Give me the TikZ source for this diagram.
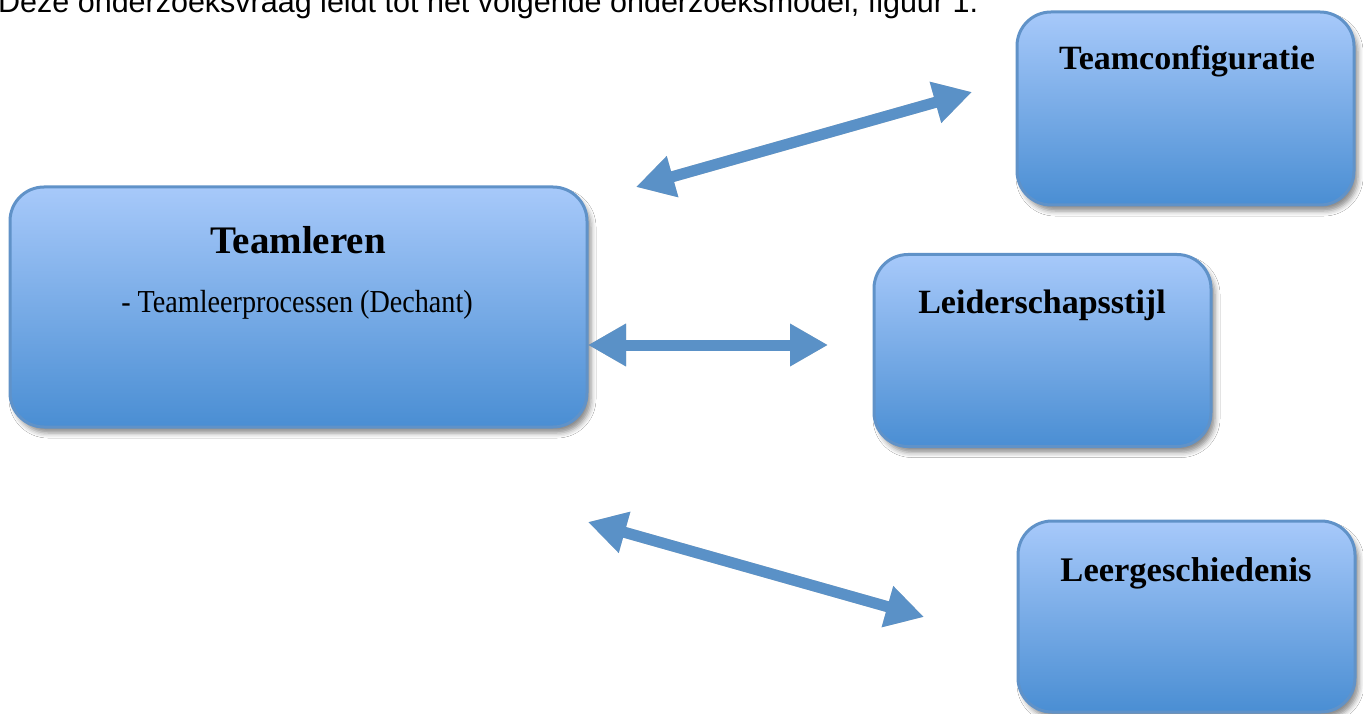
\documentclass[tikz,border=0pt]{standalone}
\usepackage{fontspec}
\setmainfont{Liberation Serif}
\newfontfamily\arialf{Liberation Sans}
\newfontfamily\subf[FakeStretch=0.88]{Liberation Serif}
\usetikzlibrary{arrows.meta,shadows.blur}
\definecolor{boxtop}{RGB}{167,201,250}
\definecolor{boxmid}{RGB}{140,180,234}
\definecolor{boxbot}{RGB}{74,142,211}
\definecolor{boxline}{RGB}{96,146,200}
\definecolor{arrowc}{RGB}{90,145,199}
\tikzset{
  box/.style={rounded corners=34pt, draw=boxline, line width=3pt,
    top color=boxtop, middle color=boxmid, bottom color=boxbot,
    inner sep=0pt,
    blur shadow={shadow xshift=4pt, shadow yshift=-6pt, shadow blur radius=5pt, shadow opacity=45}},
  ttl/.style={inner sep=0pt, anchor=base, font=\fontsize{34}{40}\selectfont\bfseries},
  arr/.style={draw=arrowc, line width=11pt,
    {Triangle[length=38pt,width=40pt]}-{Triangle[length=38pt,width=40pt]}},
  arrsh/.style={draw=black, opacity=0.22, line width=11pt, xshift=4pt, yshift=-6pt,
    {Triangle[length=38pt,width=40pt]}-{Triangle[length=38pt,width=40pt]}}
}
\begin{document}
\begin{tikzpicture}[x=1pt,y=-1pt]
\useasboundingbox (0,0) rectangle (1363,714);
\clip (0,0) rectangle (1363,714);
\fill[white] (0,0) rectangle (1363,714);
% intro text (cut at top)
\node[inner sep=0pt, anchor=base west, font=\arialf\fontsize{30.5}{36}\selectfont] (intro) at (-2,13)
  {Deze onderzoeksvraag leidt tot het volgende onderzoeksmodel, figuur 1.};
% boxes
\node[box, minimum width=577pt, minimum height=240pt] (teamleren) at (298.5,307) {};
\node[box, minimum width=337pt, minimum height=193pt] (config) at (1185.5,108.5) {};
\node[box, minimum width=337pt, minimum height=192pt] (leider) at (1042.5,350.5) {};
\node[box, minimum width=337pt, minimum height=191pt] (leerg) at (1186.5,616.5) {};
% texts
\node[ttl, font=\fontsize{39}{46}\selectfont\bfseries] (t1) at (298,254) {Teamleren};
\node[inner sep=0pt, anchor=base, font=\subf\fontsize{32}{38}\selectfont] (t1s) at (297,312) {- Teamleerprocessen (Dechant)};
\node[ttl] (t2) at (1187,70) {Teamconfiguratie};
\node[ttl] (t3) at (1042,313) {Leiderschapsstijl};
\node[ttl, font=\fontsize{34.5}{40}\selectfont\bfseries] (t4) at (1186,581) {Leergeschiedenis};
% arrow end points
\coordinate (a1s) at (636,187);
\coordinate (a1e) at (972,92);
\coordinate (a2s) at (588,345);
\coordinate (a2e) at (828,345);
\coordinate (a3s) at (588,522);
\coordinate (a3e) at (924,617);
% arrow shadows
\draw[arrsh] (a1s) -- (a1e);
\draw[arrsh] (a2s) -- (a2e);
\draw[arrsh] (a3s) -- (a3e);
% arrows
\draw[arr] (a1s) -- (a1e);
\draw[arr] (a2s) -- (a2e);
\draw[arr] (a3s) -- (a3e);
\end{tikzpicture}
\end{document}
